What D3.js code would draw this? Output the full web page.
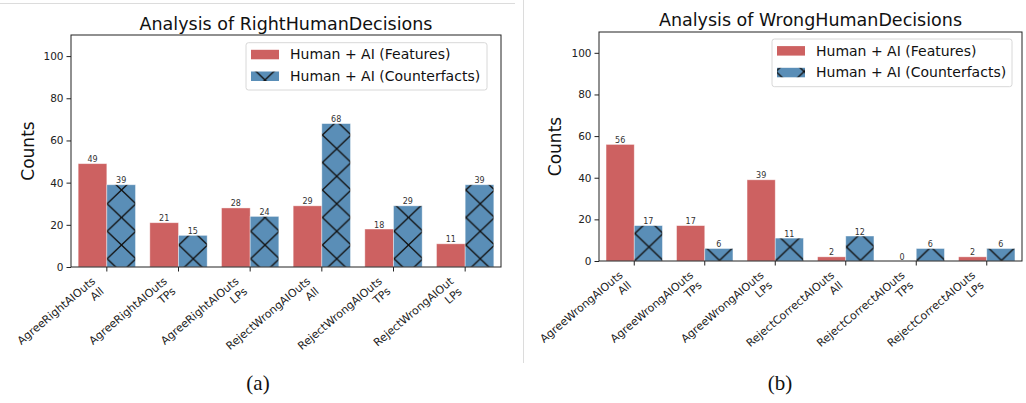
<!DOCTYPE html>
<html><head><meta charset="utf-8">
<script src="https://cdn.jsdelivr.net/npm/d3@7"></script>
<style>
html,body{margin:0;padding:0;background:#fff;}
svg{display:block;font-family:"DejaVu Sans",sans-serif;}
</style></head>
<body>
<svg id="chart" width="1026" height="403"></svg>
<script>
// ---- data ----
const leftCategories = ["AgreeRightAIOuts\nAll","AgreeRightAIOuts\nTPs","AgreeRightAIOuts\nLPs","RejectWrongAIOuts\nAll","RejectWrongAIOuts\nTPs","RejectWrongAIOut\nLPs"];
const leftFeatures = [49,21,28,29,18,11];
const leftCounterfacts = [39,15,24,68,29,39];
const rightCategories = ["AgreeWrongAIOuts\nAll","AgreeWrongAIOuts\nTPs","AgreeWrongAIOuts\nLPs","RejectCorrectAIOuts\nAll","RejectCorrectAIOuts\nTPs","RejectCorrectAIOuts\nLPs"];
const rightFeatures = [56,17,39,2,0,2];
const rightCounterfacts = [17,6,11,12,6,6];
const yTicks = [0,20,40,60,80,100];
const seriesNames = ["Human + AI (Features)","Human + AI (Counterfacts)"];
const titles = ["Analysis of RightHumanDecisions","Analysis of WrongHumanDecisions"];
const captions = ["(a)","(b)"];

// ---- style ----
const RED = "#cd6161", BLUE = "#5a8eb7";
const svg = d3.select("#chart");
const defs = svg.append("defs");

// separators
svg.append("line").attr("x1",0).attr("x2",515).attr("y1",3.5).attr("y2",3.5).attr("stroke","#dcdcdc").attr("stroke-width",1);
svg.append("line").attr("x1",523.5).attr("x2",523.5).attr("y1",0).attr("y2",363).attr("stroke","#dcdcdc").attr("stroke-width",1);

const panels = [
  {id:"L", cats:leftCategories, f:leftFeatures, c:leftCounterfacts, title:titles[0], caption:captions[0],
   x0:71, x1:501, y0:35, y1:267, titleY:29.5, countsX:34, hatch:{px:121.5, py:190, w:28.7, h:27.5},
   legend:{x:246, y:42.7, w:241, h:47.3}, capX:258},
  {id:"R", cats:rightCategories, f:rightFeatures, c:rightCounterfacts, title:titles[1], caption:captions[1],
   x0:599, x1:1022, y0:32, y1:261, titleY:25.5, countsX:561, hatch:{px:649, py:247, w:28.2, h:27},
   legend:{x:772, y:39, w:240, h:47.7}, capX:780}
];

panels.forEach(p => {
  const x = d3.scaleLinear().domain([-0.5,5.5]).range([p.x0,p.x1]);
  const y = d3.scaleLinear().domain([0,110]).range([p.y1,p.y0]);
  const bw = x(0.4)-x(0);

  // hatch pattern
  const pat = defs.append("pattern").attr("id","hatch"+p.id).attr("patternUnits","userSpaceOnUse")
    .attr("x", p.hatch.px - p.hatch.w/2).attr("y", p.hatch.py - p.hatch.h/2)
    .attr("width",p.hatch.w).attr("height",p.hatch.h);
  pat.append("rect").attr("width",p.hatch.w).attr("height",p.hatch.h).attr("fill",BLUE);
  pat.append("path").attr("d",`M0,0L${p.hatch.w},${p.hatch.h}M${p.hatch.w},0L0,${p.hatch.h}`)
    .attr("stroke","#111").attr("stroke-width",1.3).attr("fill","none");

  const g = svg.append("g");
  const idx = d3.range(p.cats.length);

  // bars
  g.selectAll(".rb").data(idx).join("rect")
    .attr("x", i => x(i-0.4)).attr("width", bw)
    .attr("y", i => y(p.f[i])).attr("height", i => y(0)-y(p.f[i]))
    .attr("fill", RED).attr("stroke","rgba(255,255,255,0.5)").attr("stroke-width",0.8);
  g.selectAll(".bb").data(idx).join("rect")
    .attr("x", i => x(i)).attr("width", bw)
    .attr("y", i => y(p.c[i])).attr("height", i => y(0)-y(p.c[i]))
    .attr("fill", `url(#hatch${p.id})`).attr("stroke","rgba(255,255,255,0.5)").attr("stroke-width",0.8);

  // value labels
  g.selectAll(".rl").data(idx).join("text")
    .attr("x", i => x(i-0.2)).attr("y", i => y(p.f[i]) - 1.5)
    .attr("text-anchor","middle").attr("font-size",8).attr("fill","#333").text(i => p.f[i]);
  g.selectAll(".bl").data(idx).join("text")
    .attr("x", i => x(i+0.2)).attr("y", i => y(p.c[i]) - 1.5)
    .attr("text-anchor","middle").attr("font-size",8).attr("fill","#333").text(i => p.c[i]);

  // axes frame
  g.append("rect").attr("x",p.x0).attr("y",p.y0).attr("width",p.x1-p.x0).attr("height",p.y1-p.y0)
    .attr("fill","none").attr("stroke","#222").attr("stroke-width",1);

  // y axis
  const ya = g.append("g").attr("transform",`translate(${p.x0},0)`)
    .call(d3.axisLeft(y).tickValues(yTicks).tickSize(4.5).tickPadding(3));
  ya.select(".domain").remove();
  ya.selectAll("line").attr("stroke","#222");
  ya.selectAll("text").attr("font-size",10.5).attr("fill","#222").attr("font-family","DejaVu Sans");

  // x ticks
  const tickLen = 4.5;
  g.selectAll(".xt").data(idx).join("line")
    .attr("x1", i => x(i)).attr("x2", i => x(i)).attr("y1",p.y1).attr("y2",p.y1+tickLen)
    .attr("stroke","#222");

  const ang = -40, a = ang*Math.PI/180;
  idx.forEach(i => {
    const lines = p.cats[i].split("\n");
    const tg = g.append("g").attr("transform",`translate(${x(i)},${p.y1+tickLen+3})`);
    const t = tg.append("text").attr("text-anchor","end").attr("font-size",11).attr("fill","#222");
    lines.forEach((ln,k) => t.append("tspan").attr("x",0).attr("dy", k===0 ? 0 : "1.2em").text(ln));
    const bb = t.node().getBBox();
    const pts = [[bb.x,bb.y],[bb.x+bb.width,bb.y],[bb.x,bb.y+bb.height],[bb.x+bb.width,bb.y+bb.height]]
      .map(([px,py]) => [px*Math.cos(a)-py*Math.sin(a), px*Math.sin(a)+py*Math.cos(a)]);
    const maxX = d3.max(pts, d=>d[0]), minY = d3.min(pts, d=>d[1]);
    t.attr("transform",`translate(${-maxX},${-minY}) rotate(${ang})`);
  });

  // title
  g.append("text").attr("x",(p.x0+p.x1)/2).attr("y",p.titleY).attr("text-anchor","middle")
    .attr("font-size",17.5).attr("fill","#111").text(p.title);
  // y label
  g.append("text").attr("transform",`translate(${p.countsX},${(p.y0+p.y1)/2}) rotate(-90)`)
    .attr("text-anchor","middle").attr("font-size",17).attr("fill","#111").text("Counts");

  // legend
  const L = p.legend;
  const lg = g.append("g");
  lg.append("rect").attr("x",L.x).attr("y",L.y).attr("width",L.w).attr("height",L.h).attr("rx",2.5)
    .attr("fill","rgba(255,255,255,0.85)").attr("stroke","#d8d8d8").attr("stroke-width",1);
  const rowsY = [L.y+11.6, L.y+33.3];
  const fills = [RED, `url(#hatch${p.id})`];
  seriesNames.forEach((s,k) => {
    lg.append("rect").attr("x",L.x+5).attr("y",rowsY[k]-4.5).attr("width",28).attr("height",9.5)
      .attr("fill",fills[k]);
    lg.append("text").attr("x",L.x+44).attr("y",rowsY[k]).attr("dy","0.35em")
      .attr("font-size",14).attr("fill","#111").text(s);
  });

  // caption
  svg.append("text").attr("x",p.capX).attr("y",390).attr("text-anchor","middle")
    .attr("font-family","Liberation Serif, serif").attr("font-size",21).attr("fill","#111").text(p.caption);
});
</script>
</body></html>
